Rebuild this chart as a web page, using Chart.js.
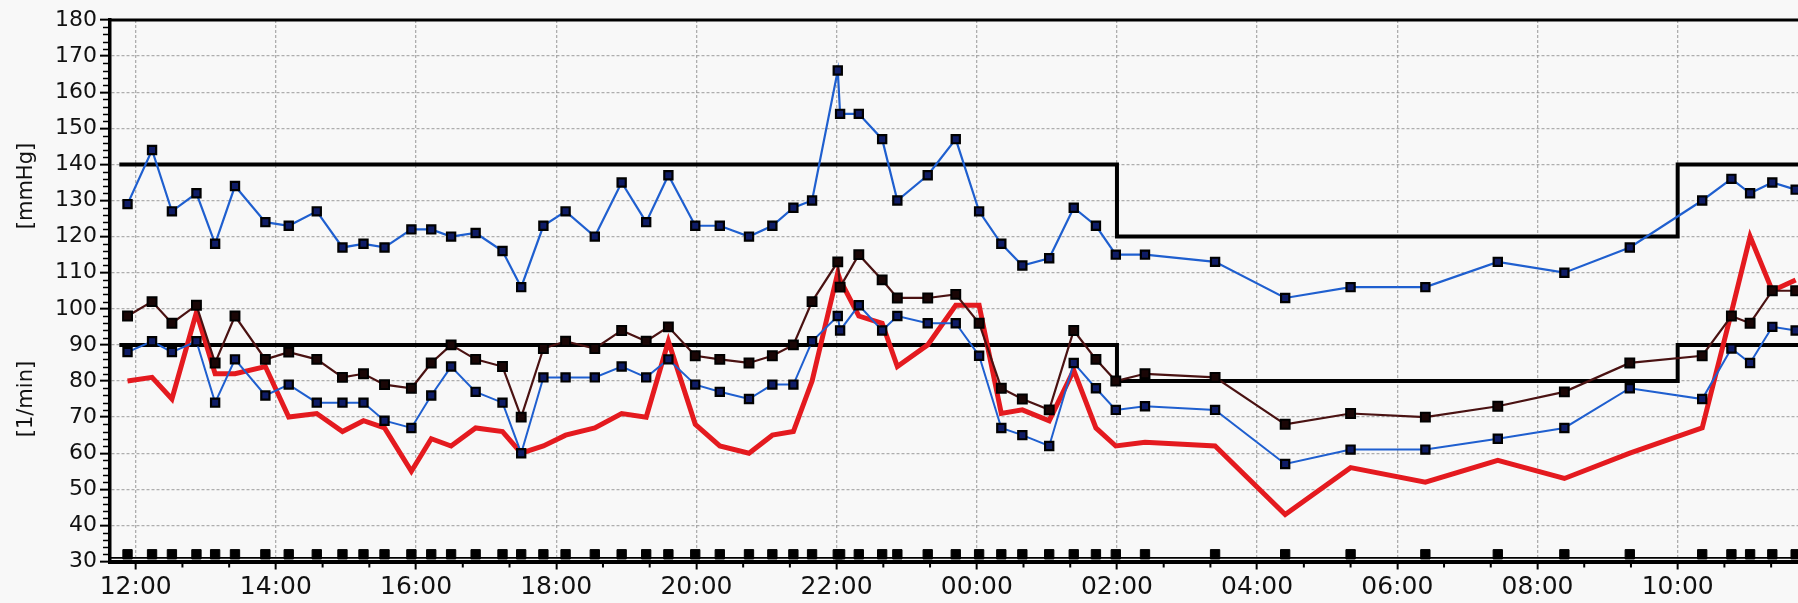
<!DOCTYPE html>
<html>
<head>
<meta charset="utf-8">
<script src="https://cdn.jsdelivr.net/npm/chart.js@4.4.1/dist/chart.umd.min.js"></script>
<style>
  html, body { margin: 0; padding: 0; background: #f8f8f8; }
  canvas { display: block; }
</style>
</head>
<body>
<canvas id="abpm" width="1798" height="603"></canvas>
<script>
// 24-hour ambulatory blood pressure record
const measureTimes = [
  "11:53","12:14","12:31","12:52","13:08","13:25","13:51","14:11","14:35","14:57",
  "15:15","15:33","15:56","16:13","16:30","16:51","17:14","17:30","17:49","18:08",
  "18:33","18:56","19:17","19:36","19:59","20:20","20:45","21:05","21:23","21:39",
  "22:01","22:03","22:19","22:39","22:52","23:18","23:42","00:02","00:21","00:39",
  "01:02","01:23","01:42","01:59","02:24","03:24","04:24","05:20","06:24","07:26",
  "08:23","09:19","10:21","10:46","11:02","11:21","11:41"
];
const systolic = [
  129,144,127,132,118,134,124,123,127,117,
  118,117,122,122,120,121,116,106,123,127,
  120,135,124,137,123,123,120,123,128,130,
  166,154,154,147,130,137,147,127,118,112,
  114,128,123,115,115,113,103,106,106,113,
  110,117,130,136,132,135,133
];
const diastolic = [
  88,91,88,91,74,86,76,79,74,74,
  74,69,67,76,84,77,74,60,81,81,
  81,84,81,86,79,77,75,79,79,91,
  98,94,101,94,98,96,96,87,67,65,
  62,85,78,72,73,72,57,61,61,64,
  67,78,75,89,85,95,94
];
const meanPressure = [
  98,102,96,101,85,98,86,88,86,81,
  82,79,78,85,90,86,84,70,89,91,
  89,94,91,95,87,86,85,87,90,102,
  113,106,115,108,103,103,104,96,78,75,
  72,94,86,80,82,81,68,71,70,73,
  77,85,87,98,96,105,105
];
const heartRate = [
  80,81,75,99,82,82,84,70,71,66,
  69,67,55,64,62,67,66,60,62,65,
  67,71,70,91,68,62,60,65,66,80,
  110,108,98,96,84,90,101,101,71,72,
  69,83,67,62,63,62,43,56,52,58,
  53,60,67,99,120,105,108
];
// day / night limits
const limitTimes = ["11:46","02:00","10:00","11:43"];
const systolicLimit = [140,120,140,140];
const diastolicLimit = [90,80,90,90];

const hourLabels = ["12:00","14:00","16:00","18:00","20:00","22:00","00:00","02:00","04:00","06:00","08:00","10:00"];
const unitLabels = ["[mmHg]","[1/min]"];
const viewStart = "11:38";
const viewEnd = "11:43";   // following day
const yMin = 30, yMax = 180;
const eventRow = 32;       // level of the measurement markers along the bottom

// "HH:MM" list in chronological order -> continuous hours (past midnight keeps counting)
function toHours(list) {
  let offset = 0, prev = -Infinity;
  return list.map(s => {
    const [h, m] = s.split(':').map(Number);
    let v = h + m / 60 + offset;
    if (v < prev) { offset += 24; v += 24; }
    prev = v;
    return v;
  });
}
const hm = s => { const [h, m] = s.split(':').map(Number); return h + m / 60; };

const tMeas = toHours(measureTimes);
const tLimit = toHours(limitTimes);
const tLabels = toHours(hourLabels);
const xMin = hm(viewStart);
const xMax = hm(viewEnd) + 24;

const pts = vals => tMeas.map((x, i) => ({ x, y: vals[i] }));
const limitPts = vals => tLimit.map((x, i) => ({ x, y: vals[i] }));

const GRID = 'rgba(150,150,150,0.75)';
const FONT = 'DejaVu Sans';

const framePlugin = {
  id: 'frame',
  beforeDraw(chart) {
    const { ctx, width, height } = chart;
    ctx.save();
    ctx.fillStyle = '#f8f8f8';
    ctx.fillRect(0, 0, width, height);
    ctx.restore();
  },
  beforeDatasetsDraw(chart) {
    const { ctx, chartArea: a, scales: { y } } = chart;
    // thin rule under the measurement markers
    const py = y.getPixelForValue(31);
    ctx.save();
    ctx.strokeStyle = '#000';
    ctx.lineWidth = 1.6;
    ctx.beginPath();
    ctx.moveTo(a.left, py);
    ctx.lineTo(a.right, py);
    ctx.stroke();
    ctx.restore();
  },
  afterDraw(chart) {
    const { ctx, chartArea: a, scales: { x, y } } = chart;
    ctx.save();
    // top frame
    ctx.strokeStyle = '#000';
    ctx.lineWidth = 3;
    ctx.beginPath();
    ctx.moveTo(a.left, a.top);
    ctx.lineTo(a.right, a.top);
    ctx.stroke();
    // minor y ticks every 2 units
    ctx.lineWidth = 1.6;
    ctx.beginPath();
    for (let v = yMin + 2; v < yMax; v += 2) {
      if (v % 10 === 0) continue;
      const py = Math.round(y.getPixelForValue(v)) + 0.5;
      ctx.moveTo(a.left - 7, py);
      ctx.lineTo(a.left, py);
    }
    ctx.stroke();
    // minor x ticks every 40 minutes
    ctx.lineWidth = 2;
    ctx.beginPath();
    tLabels.forEach(h => {
      [2 / 3, 4 / 3].forEach(d => {
        const v = h + d;
        if (v > xMax) return;
        const px = x.getPixelForValue(v);
        ctx.moveTo(px, a.bottom);
        ctx.lineTo(px, a.bottom + 6);
      });
    });
    ctx.stroke();
    // unit captions
    ctx.fillStyle = '#111';
    ctx.font = '21px "' + FONT + '"';
    ctx.textAlign = 'center';
    ctx.textBaseline = 'middle';
    [[unitLabels[0], 134], [unitLabels[1], 75]].forEach(([txt, v]) => {
      ctx.save();
      ctx.translate(27, y.getPixelForValue(v));
      ctx.rotate(-Math.PI / 2);
      ctx.fillText(txt, 0, 0);
      ctx.restore();
    });
    ctx.restore();
  }
};

const bpPoint = {
  pointStyle: 'rect',
  pointRadius: 5.8,
  pointBackgroundColor: '#0f1c66',
  pointBorderColor: '#000',
  pointBorderWidth: 2.2
};

new Chart(document.getElementById('abpm'), {
  type: 'line',
  data: {
    datasets: [
      Object.assign({ label: 'Systolic', data: pts(systolic), borderColor: '#1f5fcf', borderWidth: 2.2 }, bpPoint),
      Object.assign({ label: 'Diastolic', data: pts(diastolic), borderColor: '#1f5fcf', borderWidth: 2 }, bpPoint),
      { label: 'MAP', data: pts(meanPressure), borderColor: '#4a1212', borderWidth: 2.2,
        pointStyle: 'rect', pointRadius: 6.3, pointBackgroundColor: '#1a0606', pointBorderColor: '#000', pointBorderWidth: 2 },
      { label: 'Measurements', data: tMeas.map(x => ({ x, y: eventRow })), showLine: false,
        pointStyle: 'rect', pointRadius: 6.6, pointBackgroundColor: '#000', pointBorderColor: '#000', pointBorderWidth: 1 },
      { label: 'Heart rate', data: pts(heartRate), borderColor: '#e41a1f', borderWidth: 5,
        pointRadius: 0, borderJoinStyle: 'miter', borderCapStyle: 'butt' },
      { label: 'Systolic limit', data: limitPts(systolicLimit), borderColor: '#000', borderWidth: 4,
        stepped: true, pointRadius: 0 },
      { label: 'Diastolic limit', data: limitPts(diastolicLimit), borderColor: '#000', borderWidth: 4,
        stepped: true, pointRadius: 0 }
    ]
  },
  options: {
    responsive: false,
    devicePixelRatio: 1,
    animation: false,
    events: [],
    layout: { autoPadding: false, padding: { top: 20, right: 0, bottom: 0, left: 0 } },
    elements: { line: { tension: 0 } },
    plugins: { legend: { display: false }, tooltip: { enabled: false }, title: { display: false } },
    scales: {
      x: {
        type: 'linear',
        min: xMin,
        max: xMax,
        afterFit(s) { s.height = 41.5; },
        afterBuildTicks(s) { s.ticks = tLabels.map(v => ({ value: v })); },
        ticks: {
          autoSkip: false, maxRotation: 0, padding: 3,
          callback: (v, i) => hourLabels[i],
          color: '#111', font: { family: FONT, size: 25 }
        },
        grid: { color: GRID, lineWidth: 1.3, tickColor: '#000', tickWidth: 2, tickLength: 8 },
        border: { color: '#000', width: 4, dash: [3, 2] }
      },
      y: {
        min: yMin,
        max: yMax,
        afterFit(s) { s.width = 110; },
        ticks: {
          stepSize: 10, autoSkip: false, padding: 3,
          color: '#111', font: { family: FONT, size: 22 }
        },
        grid: {
          color: c => (c.tick && (c.tick.value === yMin || c.tick.value === yMax)) ? 'rgba(0,0,0,0)' : GRID,
          lineWidth: 1.3, tickColor: '#000', tickWidth: 2, tickLength: 10
        },
        border: { color: '#000', width: 3.5, dash: [3, 2] }
      }
    }
  },
  plugins: [framePlugin]
});
</script>
</body>
</html>
